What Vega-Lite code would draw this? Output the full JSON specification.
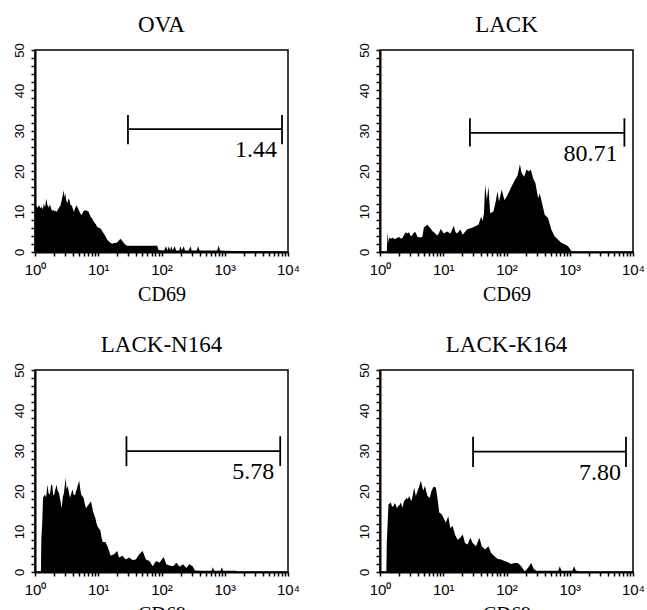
{
  "$schema": "https://vega.github.io/schema/vega-lite/v6.json",
  "background": "white",
  "padding": {"left": 12, "top": 13, "right": 5, "bottom": 2},
  "config": {
    "view": {"stroke": "black", "strokeWidth": 1.5},
    "title": {"font": "Liberation Serif", "fontSize": 23, "fontWeight": "normal", "color": "black", "offset": 6},
    "axis": {"domainColor": "black", "domainWidth": 2, "tickColor": "black", "tickWidth": 1.5, "labelColor": "black", "titleColor": "black", "grid": false, "labelFlush": false, "labelOverlap": false, "labelBound": false},
    "axisX": {"labelFont": "Liberation Sans", "labelFontSize": 15, "labelPadding": 6, "tickSize": 4, "titleFont": "Liberation Serif", "titleFontSize": 20, "titleFontWeight": "normal", "titlePadding": 7},
    "axisY": {"labelFont": "Liberation Sans", "labelFontSize": 13, "labelPadding": 5, "tickSize": 4, "labelAngle": 270}
  },
  "datasets": {
    "h": [
      {"p":"OVA","x":1,"y":29.5},{"p":"OVA","x":1.03,"y":29.5},{"p":"OVA","x":1.04,"y":11.5},{"p":"OVA","x":1.1,"y":11},{"p":"OVA","x":1.16,"y":11.6},{"p":"OVA","x":1.22,"y":10.8},{"p":"OVA","x":1.28,"y":11.2},{"p":"OVA","x":1.33,"y":10.5},{"p":"OVA","x":1.38,"y":12},{"p":"OVA","x":1.44,"y":11},{"p":"OVA","x":1.51,"y":13.2},{"p":"OVA","x":1.58,"y":11.5},{"p":"OVA","x":1.66,"y":11},{"p":"OVA","x":1.72,"y":11.8},{"p":"OVA","x":1.77,"y":11.2},{"p":"OVA","x":1.85,"y":10.2},{"p":"OVA","x":1.95,"y":10.4},{"p":"OVA","x":2.05,"y":10},{"p":"OVA","x":2.12,"y":10.3},{"p":"OVA","x":2.2,"y":9.9},{"p":"OVA","x":2.3,"y":10.5},{"p":"OVA","x":2.4,"y":11},{"p":"OVA","x":2.54,"y":11.6},{"p":"OVA","x":2.65,"y":13},{"p":"OVA","x":2.76,"y":14.2},{"p":"OVA","x":2.84,"y":15.3},{"p":"OVA","x":2.92,"y":13.5},{"p":"OVA","x":3.0,"y":14.6},{"p":"OVA","x":3.12,"y":12.8},{"p":"OVA","x":3.25,"y":12},{"p":"OVA","x":3.35,"y":13},{"p":"OVA","x":3.44,"y":13.2},{"p":"OVA","x":3.55,"y":12.5},{"p":"OVA","x":3.67,"y":11.5},{"p":"OVA","x":3.79,"y":11.6},{"p":"OVA","x":3.95,"y":10.8},{"p":"OVA","x":4.13,"y":9.9},{"p":"OVA","x":4.3,"y":10.8},{"p":"OVA","x":4.55,"y":11.6},{"p":"OVA","x":4.75,"y":10.9},{"p":"OVA","x":4.95,"y":10.3},{"p":"OVA","x":5.2,"y":9.6},{"p":"OVA","x":5.46,"y":9.1},{"p":"OVA","x":5.7,"y":9.8},{"p":"OVA","x":6.0,"y":10.3},{"p":"OVA","x":6.47,"y":10.3},{"p":"OVA","x":7.0,"y":10},{"p":"OVA","x":7.57,"y":8.7},{"p":"OVA","x":8.0,"y":8.3},{"p":"OVA","x":8.55,"y":7.4},{"p":"OVA","x":9.1,"y":6.9},{"p":"OVA","x":9.64,"y":6.2},{"p":"OVA","x":10.2,"y":6},{"p":"OVA","x":10.9,"y":5.8},{"p":"OVA","x":11.5,"y":5.2},{"p":"OVA","x":12.3,"y":4.5},{"p":"OVA","x":13.1,"y":3.8},{"p":"OVA","x":13.9,"y":3.05},{"p":"OVA","x":15,"y":2.5},{"p":"OVA","x":16.6,"y":2.06},{"p":"OVA","x":17.8,"y":2.2},{"p":"OVA","x":19.2,"y":2.2},{"p":"OVA","x":20.5,"y":2.6},{"p":"OVA","x":22.5,"y":3.3},{"p":"OVA","x":24,"y":2.7},{"p":"OVA","x":25.4,"y":2.2},{"p":"OVA","x":27,"y":1.8},{"p":"OVA","x":28.7,"y":1.57},{"p":"OVA","x":85.5,"y":1.57},{"p":"OVA","x":90,"y":0.5},{"p":"OVA","x":110,"y":0.4},{"p":"OVA","x":118,"y":1.4},{"p":"OVA","x":124,"y":0.4},{"p":"OVA","x":131,"y":1.4},{"p":"OVA","x":137,"y":0.4},{"p":"OVA","x":144,"y":1.4},{"p":"OVA","x":150,"y":0.4},{"p":"OVA","x":162,"y":1.4},{"p":"OVA","x":170,"y":0.4},{"p":"OVA","x":190,"y":0.4},{"p":"OVA","x":200,"y":1.4},{"p":"OVA","x":210,"y":0.4},{"p":"OVA","x":225,"y":1.4},{"p":"OVA","x":235,"y":0.4},{"p":"OVA","x":270,"y":0.4},{"p":"OVA","x":288,"y":1.4},{"p":"OVA","x":300,"y":0.4},{"p":"OVA","x":360,"y":0.4},{"p":"OVA","x":380,"y":1.4},{"p":"OVA","x":400,"y":0.4},{"p":"OVA","x":760,"y":0.4},{"p":"OVA","x":804,"y":1.6},{"p":"OVA","x":840,"y":0.4},{"p":"OVA","x":1000,"y":0.3},{"p":"OVA","x":10000,"y":0},
      {"p":"LACK","x":1.28,"y":0},{"p":"LACK","x":1.32,"y":4.9},{"p":"LACK","x":1.36,"y":2.5},{"p":"LACK","x":1.4,"y":3.5},{"p":"LACK","x":1.5,"y":3.3},{"p":"LACK","x":1.58,"y":3.6},{"p":"LACK","x":1.68,"y":3.2},{"p":"LACK","x":1.78,"y":3.3},{"p":"LACK","x":1.9,"y":3.6},{"p":"LACK","x":2.01,"y":3.7},{"p":"LACK","x":2.15,"y":3.3},{"p":"LACK","x":2.27,"y":3.5},{"p":"LACK","x":2.4,"y":4.2},{"p":"LACK","x":2.56,"y":4.9},{"p":"LACK","x":2.7,"y":4.6},{"p":"LACK","x":2.88,"y":4.9},{"p":"LACK","x":3.06,"y":3.9},{"p":"LACK","x":3.25,"y":4.2},{"p":"LACK","x":3.46,"y":4.9},{"p":"LACK","x":3.67,"y":4.8},{"p":"LACK","x":3.9,"y":3.8},{"p":"LACK","x":4.24,"y":3.6},{"p":"LACK","x":4.67,"y":3.8},{"p":"LACK","x":4.96,"y":6.2},{"p":"LACK","x":5.3,"y":6.4},{"p":"LACK","x":5.59,"y":6.8},{"p":"LACK","x":6.0,"y":6.2},{"p":"LACK","x":6.31,"y":5.8},{"p":"LACK","x":6.7,"y":5.2},{"p":"LACK","x":7.11,"y":4.9},{"p":"LACK","x":8.03,"y":4.1},{"p":"LACK","x":8.5,"y":4.6},{"p":"LACK","x":9.06,"y":5.7},{"p":"LACK","x":9.6,"y":5.2},{"p":"LACK","x":10.2,"y":4.6},{"p":"LACK","x":11.5,"y":5.1},{"p":"LACK","x":13.0,"y":4.6},{"p":"LACK","x":14.7,"y":6.5},{"p":"LACK","x":15.5,"y":5.0},{"p":"LACK","x":16.5,"y":4.6},{"p":"LACK","x":18.7,"y":5.6},{"p":"LACK","x":20.3,"y":4.3},{"p":"LACK","x":23.7,"y":5.6},{"p":"LACK","x":28.4,"y":6},{"p":"LACK","x":32.1,"y":6.4},{"p":"LACK","x":36.2,"y":6.8},{"p":"LACK","x":39.8,"y":8.8},{"p":"LACK","x":41.8,"y":7.6},{"p":"LACK","x":44,"y":9.5},{"p":"LACK","x":46,"y":16.6},{"p":"LACK","x":48.9,"y":12.9},{"p":"LACK","x":51.9,"y":16.2},{"p":"LACK","x":55.1,"y":9.6},{"p":"LACK","x":62.1,"y":10},{"p":"LACK","x":67.6,"y":12.5},{"p":"LACK","x":71.8,"y":15},{"p":"LACK","x":76.3,"y":12.5},{"p":"LACK","x":84,"y":15.5},{"p":"LACK","x":92.5,"y":12.9},{"p":"LACK","x":100.7,"y":13.7},{"p":"LACK","x":113.5,"y":15.4},{"p":"LACK","x":123.6,"y":16.6},{"p":"LACK","x":136,"y":17.8},{"p":"LACK","x":150,"y":19},{"p":"LACK","x":163,"y":21.7},{"p":"LACK","x":173,"y":19.6},{"p":"LACK","x":190.5,"y":18.6},{"p":"LACK","x":207,"y":20.4},{"p":"LACK","x":225,"y":19.9},{"p":"LACK","x":242,"y":20.4},{"p":"LACK","x":264,"y":18.2},{"p":"LACK","x":287,"y":17},{"p":"LACK","x":316,"y":13.3},{"p":"LACK","x":335,"y":14.5},{"p":"LACK","x":365,"y":12.1},{"p":"LACK","x":402,"y":9.2},{"p":"LACK","x":453,"y":8.4},{"p":"LACK","x":511,"y":5.6},{"p":"LACK","x":576,"y":3.9},{"p":"LACK","x":650,"y":3.1},{"p":"LACK","x":733,"y":2.3},{"p":"LACK","x":827,"y":1.9},{"p":"LACK","x":933,"y":1.5},{"p":"LACK","x":1052,"y":0.4},{"p":"LACK","x":1100,"y":0},
      {"p":"LACK-N164","x":1.24,"y":0},{"p":"LACK-N164","x":1.26,"y":8.2},{"p":"LACK-N164","x":1.3,"y":12},{"p":"LACK-N164","x":1.34,"y":18.4},{"p":"LACK-N164","x":1.43,"y":19.2},{"p":"LACK-N164","x":1.5,"y":18.5},{"p":"LACK-N164","x":1.57,"y":21.6},{"p":"LACK-N164","x":1.64,"y":19.5},{"p":"LACK-N164","x":1.72,"y":19.2},{"p":"LACK-N164","x":1.8,"y":21.6},{"p":"LACK-N164","x":1.87,"y":21.6},{"p":"LACK-N164","x":1.94,"y":19},{"p":"LACK-N164","x":2.01,"y":19.2},{"p":"LACK-N164","x":2.1,"y":20.5},{"p":"LACK-N164","x":2.19,"y":21.6},{"p":"LACK-N164","x":2.3,"y":20},{"p":"LACK-N164","x":2.39,"y":19.6},{"p":"LACK-N164","x":2.5,"y":18},{"p":"LACK-N164","x":2.64,"y":15.8},{"p":"LACK-N164","x":2.75,"y":18.5},{"p":"LACK-N164","x":2.87,"y":19.6},{"p":"LACK-N164","x":3.06,"y":23.4},{"p":"LACK-N164","x":3.15,"y":20.5},{"p":"LACK-N164","x":3.29,"y":21.3},{"p":"LACK-N164","x":3.45,"y":19.5},{"p":"LACK-N164","x":3.59,"y":18.4},{"p":"LACK-N164","x":3.75,"y":19.5},{"p":"LACK-N164","x":3.91,"y":20.5},{"p":"LACK-N164","x":4.1,"y":19},{"p":"LACK-N164","x":4.31,"y":19.2},{"p":"LACK-N164","x":4.64,"y":20.9},{"p":"LACK-N164","x":5.0,"y":22.6},{"p":"LACK-N164","x":5.2,"y":20.5},{"p":"LACK-N164","x":5.38,"y":19.2},{"p":"LACK-N164","x":5.86,"y":18.4},{"p":"LACK-N164","x":6.1,"y":17},{"p":"LACK-N164","x":6.39,"y":15.8},{"p":"LACK-N164","x":7.05,"y":16.7},{"p":"LACK-N164","x":7.68,"y":17.5},{"p":"LACK-N164","x":8.27,"y":15},{"p":"LACK-N164","x":9.01,"y":13.3},{"p":"LACK-N164","x":9.4,"y":12},{"p":"LACK-N164","x":9.82,"y":11.2},{"p":"LACK-N164","x":10.8,"y":10.3},{"p":"LACK-N164","x":11.3,"y":8.5},{"p":"LACK-N164","x":11.8,"y":7.4},{"p":"LACK-N164","x":13.0,"y":7.4},{"p":"LACK-N164","x":14.2,"y":6.1},{"p":"LACK-N164","x":15.7,"y":4},{"p":"LACK-N164","x":17.7,"y":4.4},{"p":"LACK-N164","x":20.0,"y":5.2},{"p":"LACK-N164","x":21.3,"y":3.6},{"p":"LACK-N164","x":24.1,"y":4},{"p":"LACK-N164","x":27.2,"y":3.1},{"p":"LACK-N164","x":30.8,"y":3.6},{"p":"LACK-N164","x":34.8,"y":3.0},{"p":"LACK-N164","x":39.3,"y":3.1},{"p":"LACK-N164","x":44.5,"y":4.4},{"p":"LACK-N164","x":50.3,"y":5.2},{"p":"LACK-N164","x":56.8,"y":3.1},{"p":"LACK-N164","x":64.3,"y":2.7},{"p":"LACK-N164","x":72.6,"y":1.4},{"p":"LACK-N164","x":82.2,"y":2.7},{"p":"LACK-N164","x":92.9,"y":2.3},{"p":"LACK-N164","x":108,"y":3.7},{"p":"LACK-N164","x":119,"y":1.9},{"p":"LACK-N164","x":134,"y":1.6},{"p":"LACK-N164","x":152,"y":1.4},{"p":"LACK-N164","x":172,"y":2.3},{"p":"LACK-N164","x":194,"y":1.3},{"p":"LACK-N164","x":219,"y":1.9},{"p":"LACK-N164","x":248,"y":1.0},{"p":"LACK-N164","x":274,"y":1.9},{"p":"LACK-N164","x":310,"y":1.4},{"p":"LACK-N164","x":337,"y":0.4},{"p":"LACK-N164","x":405,"y":0.3},{"p":"LACK-N164","x":620,"y":0.3},{"p":"LACK-N164","x":647,"y":1.2},{"p":"LACK-N164","x":680,"y":0.3},{"p":"LACK-N164","x":860,"y":0.3},{"p":"LACK-N164","x":901,"y":1.2},{"p":"LACK-N164","x":940,"y":0.3},{"p":"LACK-N164","x":1472,"y":0.3},{"p":"LACK-N164","x":1600,"y":0},
      {"p":"LACK-K164","x":1.26,"y":0},{"p":"LACK-K164","x":1.28,"y":7.2},{"p":"LACK-K164","x":1.32,"y":12},{"p":"LACK-K164","x":1.36,"y":16.7},{"p":"LACK-K164","x":1.48,"y":17.2},{"p":"LACK-K164","x":1.55,"y":16.2},{"p":"LACK-K164","x":1.63,"y":16.3},{"p":"LACK-K164","x":1.7,"y":17},{"p":"LACK-K164","x":1.77,"y":16.7},{"p":"LACK-K164","x":1.85,"y":15.8},{"p":"LACK-K164","x":1.93,"y":16.3},{"p":"LACK-K164","x":2.03,"y":16.5},{"p":"LACK-K164","x":2.13,"y":17.2},{"p":"LACK-K164","x":2.26,"y":15.9},{"p":"LACK-K164","x":2.4,"y":17.6},{"p":"LACK-K164","x":2.5,"y":17.8},{"p":"LACK-K164","x":2.62,"y":18.4},{"p":"LACK-K164","x":2.75,"y":18},{"p":"LACK-K164","x":2.89,"y":18.8},{"p":"LACK-K164","x":3.0,"y":18.2},{"p":"LACK-K164","x":3.14,"y":17.6},{"p":"LACK-K164","x":3.3,"y":19},{"p":"LACK-K164","x":3.46,"y":20.9},{"p":"LACK-K164","x":3.68,"y":18.8},{"p":"LACK-K164","x":4.01,"y":20.5},{"p":"LACK-K164","x":4.2,"y":21.3},{"p":"LACK-K164","x":4.42,"y":22.6},{"p":"LACK-K164","x":4.6,"y":21.5},{"p":"LACK-K164","x":4.82,"y":20.1},{"p":"LACK-K164","x":5.12,"y":21.3},{"p":"LACK-K164","x":5.64,"y":18.8},{"p":"LACK-K164","x":6.14,"y":18.4},{"p":"LACK-K164","x":6.53,"y":20.1},{"p":"LACK-K164","x":7.03,"y":21.1},{"p":"LACK-K164","x":7.65,"y":20.9},{"p":"LACK-K164","x":8.13,"y":18},{"p":"LACK-K164","x":8.64,"y":14.7},{"p":"LACK-K164","x":9.41,"y":14.3},{"p":"LACK-K164","x":10.1,"y":13.4},{"p":"LACK-K164","x":11.0,"y":12.2},{"p":"LACK-K164","x":12.0,"y":13.8},{"p":"LACK-K164","x":12.9,"y":10.9},{"p":"LACK-K164","x":14.1,"y":11.4},{"p":"LACK-K164","x":15.3,"y":9.3},{"p":"LACK-K164","x":16.9,"y":8},{"p":"LACK-K164","x":18.6,"y":8.5},{"p":"LACK-K164","x":20.3,"y":9.3},{"p":"LACK-K164","x":22.1,"y":7.2},{"p":"LACK-K164","x":24.3,"y":6.8},{"p":"LACK-K164","x":26.8,"y":8.5},{"p":"LACK-K164","x":29.2,"y":7.2},{"p":"LACK-K164","x":33.0,"y":6.4},{"p":"LACK-K164","x":37.3,"y":8.5},{"p":"LACK-K164","x":40.6,"y":6.4},{"p":"LACK-K164","x":45.9,"y":5.6},{"p":"LACK-K164","x":51.8,"y":6.4},{"p":"LACK-K164","x":57.1,"y":4.7},{"p":"LACK-K164","x":64.5,"y":3.9},{"p":"LACK-K164","x":72.8,"y":3.2},{"p":"LACK-K164","x":82.3,"y":3.1},{"p":"LACK-K164","x":93,"y":2.7},{"p":"LACK-K164","x":105,"y":2.4},{"p":"LACK-K164","x":119,"y":2.0},{"p":"LACK-K164","x":134,"y":2.2},{"p":"LACK-K164","x":151,"y":2.2},{"p":"LACK-K164","x":171,"y":1.4},{"p":"LACK-K164","x":193,"y":0.2},{"p":"LACK-K164","x":205,"y":0.5},{"p":"LACK-K164","x":218,"y":1.0},{"p":"LACK-K164","x":246,"y":2.2},{"p":"LACK-K164","x":272,"y":0.7},{"p":"LACK-K164","x":296,"y":0.3},{"p":"LACK-K164","x":660,"y":0.3},{"p":"LACK-K164","x":694,"y":1.4},{"p":"LACK-K164","x":740,"y":0.3},{"p":"LACK-K164","x":1100,"y":0.3},{"p":"LACK-K164","x":1172,"y":1.4},{"p":"LACK-K164","x":1250,"y":0.3},{"p":"LACK-K164","x":1324,"y":0.3},{"p":"LACK-K164","x":1400,"y":0}
    ],
    "gl": [
      {"p":"OVA","x":29.5,"x2":8040,"y":30.4},
      {"p":"LACK","x":26.4,"x2":7310,"y":29.5},
      {"p":"LACK-N164","x":27.9,"x2":7530,"y":29.9},
      {"p":"LACK-K164","x":29.6,"x2":7740,"y":29.8}
    ],
    "gt": [
      {"p":"OVA","x":29.5,"y":26.7,"y2":33.9},{"p":"OVA","x":8040,"y":26.7,"y2":33.9},
      {"p":"LACK","x":26.4,"y":26.1,"y2":33.1},{"p":"LACK","x":7310,"y":26.1,"y2":33.1},
      {"p":"LACK-N164","x":27.9,"y":26.2,"y2":33.6},{"p":"LACK-N164","x":7530,"y":26.2,"y2":33.6},
      {"p":"LACK-K164","x":29.6,"y":26.0,"y2":33.5},{"p":"LACK-K164","x":7740,"y":26.0,"y2":33.5}
    ],
    "gx": [
      {"p":"OVA","x":8040,"y":30.4,"label":"1.44"},
      {"p":"LACK","x":7310,"y":29.5,"label":"80.71"},
      {"p":"LACK-N164","x":7530,"y":29.9,"label":"5.78"},
      {"p":"LACK-K164","x":7740,"y":29.8,"label":"7.80"}
    ]
  },
  "spacing": 28,
  "vconcat": [
    {"hconcat": [
      {"title": "OVA", "width": 253, "height": 202,
       "encoding": {
        "x": {"field": "x", "type": "quantitative", "scale": {"type": "log", "domain": [1, 10000]},
              "axis": {"title": "CD69", "labelOverlap": false, "values": [1,2,3,4,5,6,7,8,9,10,20,30,40,50,60,70,80,90,100,200,300,400,500,600,700,800,900,1000,2000,3000,4000,5000,6000,7000,8000,9000,10000],
                       "labelExpr": "datum.value == 1 ? '10⁰' : datum.value == 10 ? '10¹' : datum.value == 100 ? '10²' : datum.value == 1000 ? '10³' : datum.value == 10000 ? '10⁴' : ''"}},
        "y": {"field": "y", "type": "quantitative", "scale": {"domain": [0, 50]},
              "axis": {"title": null, "labelOverlap": false, "values": [0,2,4,6,8,10,12,14,16,18,20,22,24,26,28,30,32,34,36,38,40,42,44,46,48,50], "labelExpr": "datum.value % 10 == 0 ? datum.label : ''"}}},
       "layer": [
        {"data": {"name": "h"}, "transform": [{"filter": "datum.p == 'OVA'"}], "mark": {"type": "area", "color": "black"}},
        {"data": {"name": "gl"}, "transform": [{"filter": "datum.p == 'OVA'"}], "mark": {"type": "rule", "color": "black", "strokeWidth": 1.8}, "encoding": {"x2": {"field": "x2"}}},
        {"data": {"name": "gt"}, "transform": [{"filter": "datum.p == 'OVA'"}], "mark": {"type": "rule", "color": "black", "strokeWidth": 1.8}, "encoding": {"y2": {"field": "y2"}}},
        {"data": {"name": "gx"}, "transform": [{"filter": "datum.p == 'OVA'"}], "mark": {"type": "text", "color": "black", "font": "Liberation Serif", "fontSize": 24, "align": "right", "baseline": "alphabetic", "dx": -5, "dy": 28}, "encoding": {"text": {"field": "label"}}}
      ]},
      {"title": "LACK", "width": 253, "height": 202,
       "encoding": {
        "x": {"field": "x", "type": "quantitative", "scale": {"type": "log", "domain": [1, 10000]},
              "axis": {"title": "CD69", "labelOverlap": false, "values": [1,2,3,4,5,6,7,8,9,10,20,30,40,50,60,70,80,90,100,200,300,400,500,600,700,800,900,1000,2000,3000,4000,5000,6000,7000,8000,9000,10000],
                       "labelExpr": "datum.value == 1 ? '10⁰' : datum.value == 10 ? '10¹' : datum.value == 100 ? '10²' : datum.value == 1000 ? '10³' : datum.value == 10000 ? '10⁴' : ''"}},
        "y": {"field": "y", "type": "quantitative", "scale": {"domain": [0, 50]},
              "axis": {"title": null, "labelOverlap": false, "values": [0,2,4,6,8,10,12,14,16,18,20,22,24,26,28,30,32,34,36,38,40,42,44,46,48,50], "labelExpr": "datum.value % 10 == 0 ? datum.label : ''"}}},
       "layer": [
        {"data": {"name": "h"}, "transform": [{"filter": "datum.p == 'LACK'"}], "mark": {"type": "area", "color": "black"}},
        {"data": {"name": "gl"}, "transform": [{"filter": "datum.p == 'LACK'"}], "mark": {"type": "rule", "color": "black", "strokeWidth": 1.8}, "encoding": {"x2": {"field": "x2"}}},
        {"data": {"name": "gt"}, "transform": [{"filter": "datum.p == 'LACK'"}], "mark": {"type": "rule", "color": "black", "strokeWidth": 1.8}, "encoding": {"y2": {"field": "y2"}}},
        {"data": {"name": "gx"}, "transform": [{"filter": "datum.p == 'LACK'"}], "mark": {"type": "text", "color": "black", "font": "Liberation Serif", "fontSize": 24, "align": "right", "baseline": "alphabetic", "dx": -7, "dy": 28}, "encoding": {"text": {"field": "label"}}}
      ]}
    ], "spacing": 56},
    {"hconcat": [
      {"title": "LACK-N164", "width": 253, "height": 202,
       "encoding": {
        "x": {"field": "x", "type": "quantitative", "scale": {"type": "log", "domain": [1, 10000]},
              "axis": {"title": "CD69", "labelOverlap": false, "values": [1,2,3,4,5,6,7,8,9,10,20,30,40,50,60,70,80,90,100,200,300,400,500,600,700,800,900,1000,2000,3000,4000,5000,6000,7000,8000,9000,10000],
                       "labelExpr": "datum.value == 1 ? '10⁰' : datum.value == 10 ? '10¹' : datum.value == 100 ? '10²' : datum.value == 1000 ? '10³' : datum.value == 10000 ? '10⁴' : ''"}},
        "y": {"field": "y", "type": "quantitative", "scale": {"domain": [0, 50]},
              "axis": {"title": null, "labelOverlap": false, "values": [0,2,4,6,8,10,12,14,16,18,20,22,24,26,28,30,32,34,36,38,40,42,44,46,48,50], "labelExpr": "datum.value % 10 == 0 ? datum.label : ''"}}},
       "layer": [
        {"data": {"name": "h"}, "transform": [{"filter": "datum.p == 'LACK-N164'"}], "mark": {"type": "area", "color": "black"}},
        {"data": {"name": "gl"}, "transform": [{"filter": "datum.p == 'LACK-N164'"}], "mark": {"type": "rule", "color": "black", "strokeWidth": 1.8}, "encoding": {"x2": {"field": "x2"}}},
        {"data": {"name": "gt"}, "transform": [{"filter": "datum.p == 'LACK-N164'"}], "mark": {"type": "rule", "color": "black", "strokeWidth": 1.8}, "encoding": {"y2": {"field": "y2"}}},
        {"data": {"name": "gx"}, "transform": [{"filter": "datum.p == 'LACK-N164'"}], "mark": {"type": "text", "color": "black", "font": "Liberation Serif", "fontSize": 24, "align": "right", "baseline": "alphabetic", "dx": -6, "dy": 28}, "encoding": {"text": {"field": "label"}}}
      ]},
      {"title": "LACK-K164", "width": 253, "height": 202,
       "encoding": {
        "x": {"field": "x", "type": "quantitative", "scale": {"type": "log", "domain": [1, 10000]},
              "axis": {"title": "CD69", "labelOverlap": false, "values": [1,2,3,4,5,6,7,8,9,10,20,30,40,50,60,70,80,90,100,200,300,400,500,600,700,800,900,1000,2000,3000,4000,5000,6000,7000,8000,9000,10000],
                       "labelExpr": "datum.value == 1 ? '10⁰' : datum.value == 10 ? '10¹' : datum.value == 100 ? '10²' : datum.value == 1000 ? '10³' : datum.value == 10000 ? '10⁴' : ''"}},
        "y": {"field": "y", "type": "quantitative", "scale": {"domain": [0, 50]},
              "axis": {"title": null, "labelOverlap": false, "values": [0,2,4,6,8,10,12,14,16,18,20,22,24,26,28,30,32,34,36,38,40,42,44,46,48,50], "labelExpr": "datum.value % 10 == 0 ? datum.label : ''"}}},
       "layer": [
        {"data": {"name": "h"}, "transform": [{"filter": "datum.p == 'LACK-K164'"}], "mark": {"type": "area", "color": "black"}},
        {"data": {"name": "gl"}, "transform": [{"filter": "datum.p == 'LACK-K164'"}], "mark": {"type": "rule", "color": "black", "strokeWidth": 1.8}, "encoding": {"x2": {"field": "x2"}}},
        {"data": {"name": "gt"}, "transform": [{"filter": "datum.p == 'LACK-K164'"}], "mark": {"type": "rule", "color": "black", "strokeWidth": 1.8}, "encoding": {"y2": {"field": "y2"}}},
        {"data": {"name": "gx"}, "transform": [{"filter": "datum.p == 'LACK-K164'"}], "mark": {"type": "text", "color": "black", "font": "Liberation Serif", "fontSize": 24, "align": "right", "baseline": "alphabetic", "dx": -5, "dy": 28}, "encoding": {"text": {"field": "label"}}}
      ]}
    ], "spacing": 56}
  ]
}
